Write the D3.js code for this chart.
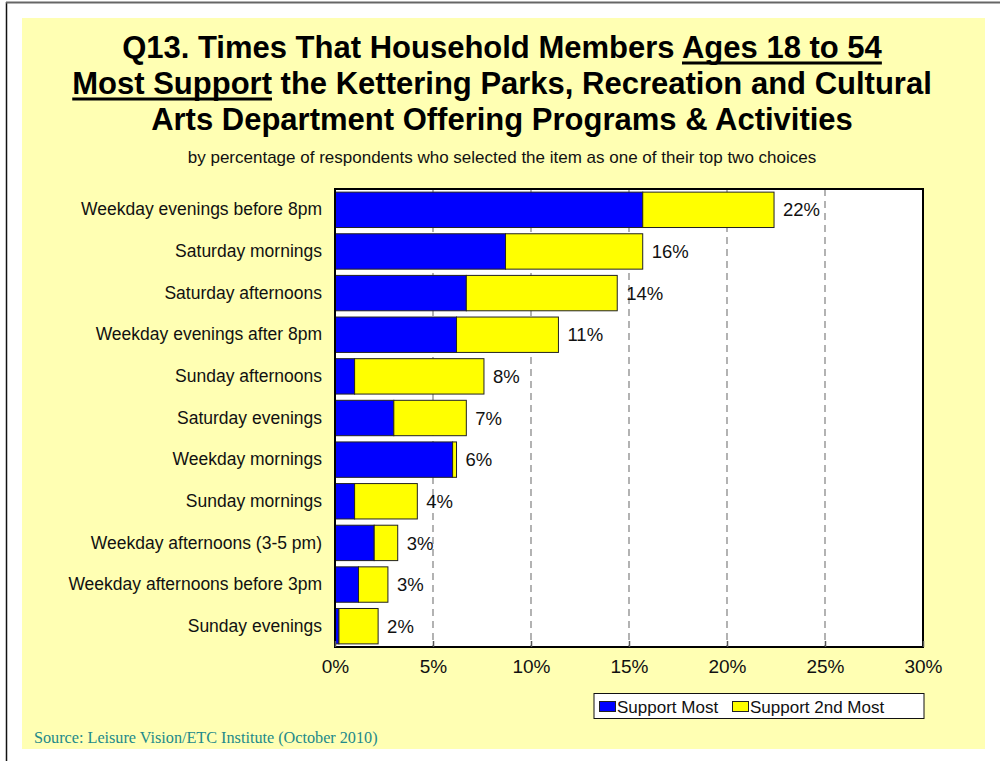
<!DOCTYPE html>
<html>
<head>
<meta charset="utf-8">
<script src="https://cdn.jsdelivr.net/npm/d3@7/dist/d3.min.js"></script>
<style>
  html, body { margin: 0; padding: 0; background: #ffffff; }
  svg { display: block; font-family: "Liberation Sans", Arial, sans-serif; }
</style>
</head>
<body>
<svg id="chart" width="1000" height="761"></svg>
<script>
// Times of day, top to bottom
const categories = [
  "Weekday evenings before 8pm",
  "Saturday mornings",
  "Saturday afternoons",
  "Weekday evenings after 8pm ",
  "Sunday afternoons",
  "Saturday evenings",
  "Weekday mornings",
  "Sunday mornings",
  "Weekday afternoons (3-5 pm)",
  "Weekday afternoons before 3pm",
  "Sunday evenings"
];
// Percent of respondents choosing the time as their first choice
const supportMost = [15.7, 8.7, 6.7, 6.2, 1.0, 3.0, 6.0, 1.0, 2.0, 1.2, 0.2];
// Percent choosing it as their second choice
const support2nd = [6.7, 7.0, 7.7, 5.2, 6.6, 3.7, 0.2, 3.2, 1.2, 1.5, 2.0];
const seriesNames = ["Support Most", "Support 2nd Most"];
const seriesColors = ["#0000ff", "#ffff00"];
const xTicks = [0, 5, 10, 15, 20, 25, 30];

const svg = d3.select("#chart");

// Slide frame and background panel
svg.append("line").attr("x1", 6.5).attr("x2", 6.5).attr("y1", 2).attr("y2", 761)
  .attr("stroke", "#111").attr("stroke-width", 1.5);
svg.append("line").attr("x1", 6).attr("x2", 1000).attr("y1", 2.5).attr("y2", 2.5)
  .attr("stroke", "#666").attr("stroke-width", 2);
svg.append("rect").attr("x", 22).attr("y", 18).attr("width", 963).attr("height", 731)
  .attr("fill", "#ffffb3");

// Title with underlined phrases
const titleLines = [
  [["Q13. Times That Household Members ", false], ["Ages 18 to 54", true]],
  [["Most Support", true], [" the Kettering Parks, Recreation and Cultural", false]],
  [["Arts Department Offering Programs & Activities", false]]
];
const titleY = [58, 94, 130];
titleLines.forEach((parts, i) => {
  const t = svg.append("text")
    .attr("x", 502).attr("y", titleY[i])
    .attr("text-anchor", "middle")
    .attr("font-size", 31).attr("font-weight", "bold").attr("fill", "#000")
    .text(parts.map(p => p[0]).join(""));
  const node = t.node();
  let idx = 0;
  parts.forEach(([str, under]) => {
    if (under) {
      const x0 = node.getStartPositionOfChar(idx).x;
      const x1 = node.getEndPositionOfChar(idx + str.length - 1).x;
      svg.append("rect").attr("x", x0).attr("y", titleY[i] + 3.5)
        .attr("width", x1 - x0).attr("height", 3).attr("fill", "#000");
    }
    idx += str.length;
  });
});

svg.append("text")
  .attr("x", 502).attr("y", 163)
  .attr("text-anchor", "middle")
  .attr("font-size", 17).attr("fill", "#111")
  .text("by percentage of respondents who selected the item as one of their top two choices");

// Plot area
const plot = { left: 335, right: 923, top: 189, bottom: 647 };
const x = d3.scaleLinear().domain([0, 30]).range([plot.left, plot.right]);
const y = d3.scaleBand().domain(categories).range([plot.top, plot.bottom])
  .paddingInner(0.15).paddingOuter(0.075);

svg.append("rect").attr("x", plot.left).attr("y", plot.top)
  .attr("width", plot.right - plot.left).attr("height", plot.bottom - plot.top)
  .attr("fill", "#ffffff");

// Dashed gridlines
svg.append("g").selectAll("line")
  .data(xTicks.filter(d => d > 0 && d < 30))
  .join("line")
  .attr("x1", d => x(d)).attr("x2", d => x(d))
  .attr("y1", plot.top).attr("y2", plot.bottom)
  .attr("stroke", "#808080").attr("stroke-width", 1.2)
  .attr("stroke-dasharray", "7,5");

// Stacked bars
const rows = categories.map((c, i) => ({ cat: c, vals: [supportMost[i], support2nd[i]] }));
const stack = d3.stack().keys([0, 1]).value((d, k) => d.vals[k]);
const layers = stack(rows);
svg.append("g").selectAll("g")
  .data(layers)
  .join("g")
  .attr("fill", (d, i) => seriesColors[i])
  .selectAll("rect")
  .data(d => d)
  .join("rect")
  .attr("x", d => x(d[0]))
  .attr("y", d => y(d.data.cat))
  .attr("width", d => x(d[1]) - x(d[0]))
  .attr("height", y.bandwidth())
  .attr("stroke", "#222").attr("stroke-width", 1);

// Total labels
svg.append("g").selectAll("text")
  .data(rows)
  .join("text")
  .attr("x", d => x(d.vals[0] + d.vals[1]) + 9)
  .attr("y", d => y(d.cat) + y.bandwidth() / 2)
  .attr("dy", "0.36em")
  .attr("font-size", 18.5).attr("fill", "#111")
  .text(d => Math.round(d.vals[0] + d.vals[1]) + "%");

// Plot frame
svg.append("rect").attr("x", plot.left).attr("y", plot.top)
  .attr("width", plot.right - plot.left).attr("height", plot.bottom - plot.top)
  .attr("fill", "none").attr("stroke", "#000").attr("stroke-width", 2);

// X axis
const xAxis = d3.axisBottom(x).tickValues(xTicks).tickFormat(d => d + "%")
  .tickSizeInner(-6).tickSizeOuter(0).tickPadding(13);
const gx = svg.append("g").attr("transform", `translate(0,${plot.bottom})`).call(xAxis);
gx.select(".domain").remove();
gx.selectAll(".tick line").attr("stroke", "#555").attr("stroke-width", 1.5);
gx.selectAll(".tick text").attr("font-size", 19).attr("fill", "#111")
  .attr("font-family", "'Liberation Sans', Arial, sans-serif");

// Y axis labels
const yAxis = d3.axisLeft(y).tickSize(0).tickPadding(13);
const gy = svg.append("g").attr("transform", `translate(${plot.left},0)`).call(yAxis);
gy.select(".domain").remove();
gy.selectAll(".tick text").attr("font-size", 17.5).attr("fill", "#111")
  .attr("font-family", "'Liberation Sans', Arial, sans-serif");

// Legend
const lg = svg.append("g");
lg.append("rect").attr("x", 594).attr("y", 693.5).attr("width", 330).attr("height", 25)
  .attr("fill", "#fff").attr("stroke", "#111").attr("stroke-width", 1);
const legendX = [599, 732];
seriesNames.forEach((name, i) => {
  lg.append("rect").attr("x", legendX[i] + 0.5).attr("y", 701.5).attr("width", 16).attr("height", 10)
    .attr("fill", seriesColors[i]).attr("stroke", "#222").attr("stroke-width", 1);
  lg.append("text").attr("x", legendX[i] + 18).attr("y", 712.5)
    .attr("font-size", 17).attr("fill", "#111").text(name);
});

// Source note
svg.append("text").attr("x", 34).attr("y", 743)
  .attr("font-family", "'Liberation Serif', 'Times New Roman', serif")
  .attr("font-size", 16.2).attr("fill", "#238a8a")
  .text("Source:  Leisure Vision/ETC Institute (October 2010)");
</script>
</body>
</html>
